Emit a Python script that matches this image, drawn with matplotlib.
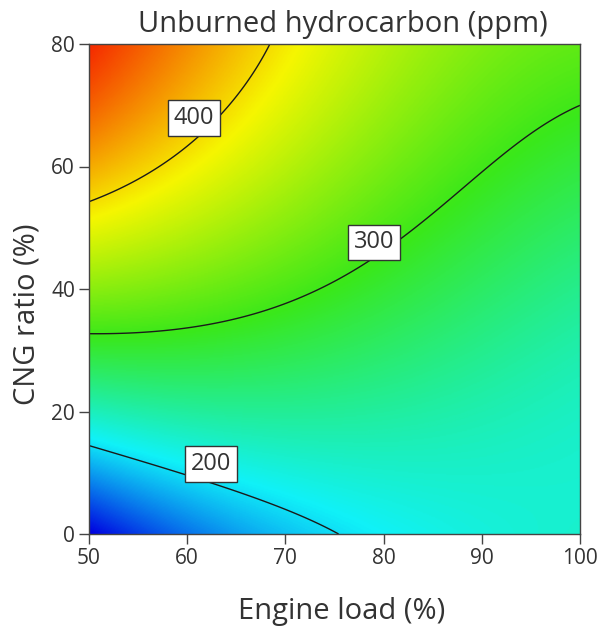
import numpy as np
import matplotlib
matplotlib.use("Agg")
import matplotlib.pyplot as plt
from matplotlib.colors import LinearSegmentedColormap

# ---- values ----
# contour traces (engine load %, CNG ratio %) for each labelled level
lvl200_load = [50, 59.3, 63.0, 69.4, 74.7]
lvl200_cng = [14.7, 10.3, 8.3, 4.4, 0.0]
lvl300_load = [50, 59.8, 64.9, 68.6, 71.3, 78.6, 81.3, 83.0, 86.4, 89.8, 93.2, 96.6, 100]
lvl300_cng = [32.2, 33.0, 34.4, 36.3, 38.2, 44.6, 48.1, 50.2, 54.3, 58.9, 63.5, 67.6, 70.3]
lvl400_load = [50, 54.2, 60.6, 63.3, 69.1]
lvl400_cng = [54.0, 57.8, 64.9, 69.0, 80.0]
# colour-read spot values (ppm)
spot_load = [50, 50, 100, 100, 75, 100, 85, 80]
spot_cng = [0, 80, 0, 80, 80, 40, 20, 5]
spot_hc = [140, 480, 220, 322, 372, 266, 232, 208]

contour_levels = [200, 300, 400]
label_load = [62.4, 79.0, 60.7]
label_cng = [11.4, 47.6, 67.9]
x_ticks = [50, 60, 70, 80, 90, 100]
y_ticks = [0, 20, 40, 60, 80]

# ---- smooth response surface (cubic) through the read values ----
px, py, pv = [], [], []
for lx, ly, lv in [(lvl200_load, lvl200_cng, 200), (lvl300_load, lvl300_cng, 300),
                   (lvl400_load, lvl400_cng, 400)]:
    px += lx; py += ly; pv += [lv] * len(lx)
px += spot_load; py += spot_cng; pv += spot_hc
px, py, pv = map(np.asarray, (px, py, pv))
w = np.ones_like(pv, dtype=float)
w[:len(lvl200_load)] = 1.6
w[-len(spot_hc):] = 0.35

def design(x, y):
    a = (np.asarray(x) - 75) / 25.0
    b = (np.asarray(y) - 40) / 40.0
    return np.stack([np.ones_like(a), a, b, a * a, a * b, b * b,
                     a ** 3, a * a * b, a * b * b, b ** 3], axis=-1)

A = design(px, py) * w[:, None]
coef, *_ = np.linalg.lstsq(A, pv * w, rcond=None)

gx = np.linspace(50, 100, 400)
gy = np.linspace(0, 80, 400)
GX, GY = np.meshgrid(gx, gy)
Z = design(GX, GY) @ coef

cmap = LinearSegmentedColormap.from_list(
    "de", ["#0000e0", "#10f2f8", "#3ae81a", "#f6f600", "#f52a00"])

plt.rcParams['font.family'] = ['Open Sans', 'DejaVu Sans']
txt = '#333333'
fig = plt.figure(figsize=(6.02, 6.34), dpi=100)
ax = fig.add_axes([89 / 602, 1 - 534 / 634, 491 / 602, 490 / 634])
ax.imshow(Z, extent=[50, 100, 0, 80], origin='lower', aspect='auto',
          cmap=cmap, vmin=Z.min(), vmax=Z.max(), interpolation='bilinear')
cs = ax.contour(GX, GY, Z, levels=contour_levels, colors='#1a1a1a', linewidths=1.0)
labels = ax.clabel(cs, fmt='%d', inline=False, fontsize=17,
                   manual=list(zip(label_load, label_cng)), colors=txt)
for t in labels:
    t.set_rotation(0)
    t.set_zorder(6)
    t.set_ha('center')
    t.set_va('center')
    t.set_bbox(dict(boxstyle='square,pad=0.25', facecolor='white',
                    edgecolor='#333333', linewidth=1.0))
    lv = int(t.get_text())
    i = contour_levels.index(lv)
    t.set_position((label_load[i], label_cng[i]))

ax.set_xlim(50, 100)
ax.set_ylim(0, 80)
ax.set_xticks(x_ticks)
ax.set_yticks(y_ticks)
ax.tick_params(direction='out', length=7, width=1.0, color='#444444',
               labelsize=15, labelcolor=txt, pad=3)
for s in ax.spines.values():
    s.set_color('#444444')
    s.set_linewidth(1.0)

ax.set_xlabel('Engine load (%)', fontsize=21, color=txt, va='baseline')
ax.xaxis.set_label_coords((341.7 - 89) / 491, (534 - 619) / 490)
ax.set_ylabel('CNG ratio (%)', fontsize=21, color=txt, va='baseline',
              ha='center', rotation_mode='anchor')
ax.yaxis.set_label_coords((35 - 89) / 491, (534 - 314) / 490)
fig.text(343 / 602, 1 - 31.7 / 634, 'Unburned hydrocarbon (ppm)', fontsize=21,
         color=txt, ha='center', va='baseline')

fig.savefig('out.png', dpi=100)
